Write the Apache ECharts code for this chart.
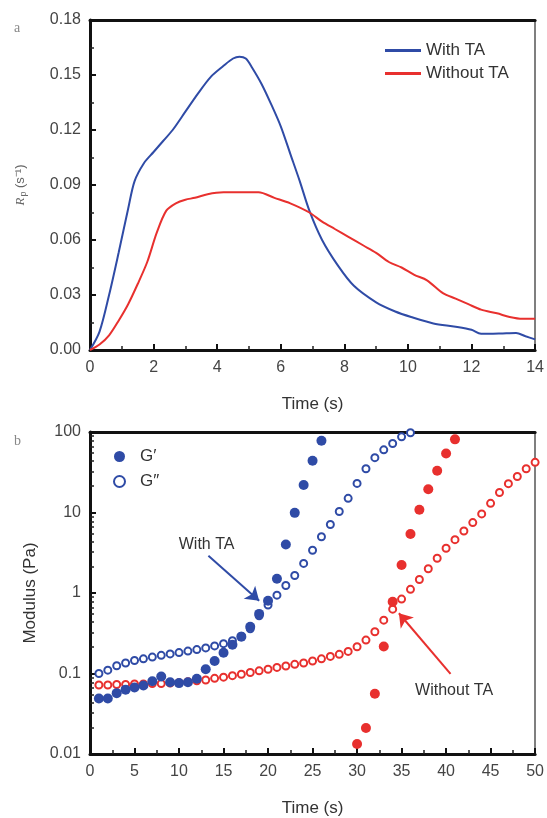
<!DOCTYPE html>
<html><head><meta charset="utf-8">
<script src="https://cdn.jsdelivr.net/npm/echarts@6/dist/echarts.min.js"></script>
<style>html,body{margin:0;padding:0;background:#fff}#c{width:547px;height:818px}</style>
</head><body><div id="c"></div>
<script>
// ---- Panel a: Rp vs time ----
const tWith = [0, 0.3, 0.6, 0.9, 1.2, 1.4, 1.7, 2.0, 2.3, 2.6, 3.0, 3.4, 3.8, 4.2, 4.5, 4.7, 4.9, 5.1, 5.4, 5.7, 6.0, 6.3, 6.6, 6.9, 7.3, 7.8, 8.3, 9.0, 9.6, 10.1, 10.8, 11.5, 12.0, 12.3, 12.9, 13.4, 13.7, 14];
const rpWith = [0, 0.010, 0.030, 0.053, 0.077, 0.092, 0.102, 0.108, 0.114, 0.120, 0.130, 0.140, 0.149, 0.155, 0.159, 0.160, 0.159, 0.154, 0.145, 0.134, 0.122, 0.107, 0.092, 0.076, 0.060, 0.046, 0.035, 0.026, 0.021, 0.018, 0.0145, 0.0127, 0.011, 0.0088, 0.009, 0.0093, 0.0075, 0.0058];
const tWithout = [0, 0.3, 0.6, 0.9, 1.2, 1.5, 1.8, 2.1, 2.4, 2.7, 3.0, 3.3, 3.7, 4.2, 4.8, 5.3, 5.8, 6.3, 6.9, 7.3, 7.7, 8.1, 8.6, 9.0, 9.4, 9.8, 10.2, 10.6, 11.1, 11.5, 11.9, 12.3, 12.8, 13.2, 13.6, 14.0];
const rpWithout = [0, 0.003, 0.008, 0.016, 0.025, 0.036, 0.048, 0.064, 0.076, 0.080, 0.082, 0.083, 0.085, 0.086, 0.086, 0.086, 0.083, 0.080, 0.075, 0.070, 0.066, 0.062, 0.057, 0.053, 0.048, 0.045, 0.041, 0.038, 0.031, 0.028, 0.025, 0.022, 0.020, 0.018, 0.017, 0.017];

// ---- Panel b: modulus vs time ----
const tGpWith = [1,2,3,4,5,6,7,8,9,10,11,12,13,14,15,16,17,18,19,20,21,22,23,24,25,26];
const gpWith = [0.049,0.049,0.057,0.063,0.067,0.071,0.080,0.092,0.078,0.076,0.078,0.086,0.113,0.143,0.181,0.228,0.287,0.38,0.55,0.80,1.5,4.0,9.9,22,44,78];
const tGppWith = [1,2,3,4,5,6,7,8,9,10,11,12,13,14,15,16,17,18,19,20,21,22,23,24,25,26,27,28,29,30,31,32,33,34,35,36];
const gppWith = [0.10,0.11,0.125,0.135,0.145,0.152,0.16,0.168,0.175,0.182,0.19,0.198,0.208,0.22,0.235,0.255,0.29,0.36,0.52,0.71,0.94,1.24,1.65,2.33,3.4,5.0,7.1,10.3,15,23,35,48,60,72,87,98];
const tGpWithout = [30,31,32,33,34,35,36,37,38,39,40,41];
const gpWithout = [0.0133,0.021,0.056,0.217,0.78,2.23,5.4,10.8,19.4,33,54,81];
const tGppWithout = [1,2,3,4,5,6,7,8,9,10,11,12,13,14,15,16,17,18,19,20,21,22,23,24,25,26,27,28,29,30,31,32,33,34,35,36,37,38,39,40,41,42,43,44,45,46,47,48,49,50];
const gppWithout = [0.072,0.072,0.073,0.073,0.074,0.074,0.075,0.075,0.076,0.077,0.079,0.081,0.083,0.087,0.090,0.094,0.098,0.103,0.108,0.113,0.119,0.124,0.130,0.135,0.143,0.152,0.163,0.173,0.188,0.215,0.26,0.33,0.46,0.63,0.84,1.11,1.47,2.0,2.7,3.6,4.6,5.9,7.5,9.6,13,17.7,22.8,28,35,42];

// annotations (data coordinates)
const arrowWith = [[13.3, 2.9], [19.0, 0.8]];
const labelWith = [13.1, 4.0];
const arrowWithout = [[40.5, 0.099], [34.7, 0.56]];
const labelWithout = [40.9, 0.061];

const BLUE = '#2f4ba6', RED = '#e8302e';
const zip = (a, b) => a.map((x, i) => [x, b[i]]);
const FONT = 'Liberation Sans, Arial, sans-serif';
const lab = {color: '#444', fontSize: 16, fontFamily: FONT};

const chart = echarts.init(document.getElementById('c'), null, {renderer: 'canvas'});
const axisBase = (extra) => Object.assign({
  axisLine: {show: true, onZero: false, lineStyle: {color: '#111', width: 3}},
  axisTick: {show: true, inside: true, length: 6, lineStyle: {color: '#111', width: 2}},
  minorTick: {show: true, splitNumber: 2, length: 4, lineStyle: {color: '#222', width: 1.5}},
  splitLine: {show: false},
  axisLabel: Object.assign({margin: 10}, lab),
  nameTextStyle: {color: '#333', fontSize: 17, fontFamily: FONT}
}, extra);
const frame = (gi, pos, w, c) => ({
  gridIndex: gi, position: pos, type: 'value', min: 0, max: 1,
  axisLine: {show: true, onZero: false, lineStyle: {color: c, width: w}},
  axisTick: {show: false}, axisLabel: {show: false}, splitLine: {show: false}
});
const arrowLine = (color, pts) => ({silent: true, symbol: ['none', 'arrow'], symbolSize: 13,
  label: {show: false}, lineStyle: {color: color, width: 2, type: 'solid', opacity: 1},
  itemStyle: {color: color, opacity: 1},
  data: [[{coord: pts[0]}, {coord: pts[1]}]]});
const textPoint = (txt, at) => ({silent: true, symbol: 'circle', symbolSize: 1,
  itemStyle: {color: 'rgba(0,0,0,0)'},
  data: [{coord: at, label: {show: true, position: 'inside', formatter: txt,
    color: '#333', fontSize: 16, fontFamily: FONT}}]});

chart.setOption({
  animation: false,
  backgroundColor: '#fff',
  textStyle: {fontFamily: FONT},
  grid: [
    {left: 90, top: 20, width: 447, height: 330},
    {left: 90, top: 432, width: 447, height: 330}
  ],
  xAxis: [
    axisBase({gridIndex: 0, type: 'value', min: 0, max: 14, interval: 2,
      name: 'Time (s)', nameLocation: 'middle', nameGap: 46}),
    axisBase({gridIndex: 1, type: 'value', min: 0, max: 50, interval: 5,
      name: 'Time (s)', nameLocation: 'middle', nameGap: 46}),
    frame(0, 'top', 3, '#111'),
    frame(1, 'top', 3, '#111')
  ],
  yAxis: [
    axisBase({gridIndex: 0, type: 'value', min: 0, max: 0.18, interval: 0.03,
      axisLabel: Object.assign({margin: 9, formatter: v => v.toFixed(2)}, lab),
      name: '{i|R}{sub|p} (s⁻¹)', nameLocation: 'middle', nameGap: 62, nameRotate: 90,
      nameTextStyle: {color: '#666', fontSize: 13, fontFamily: FONT,
        rich: {i: {fontStyle: 'italic', fontSize: 13, color: '#666', fontFamily: 'Liberation Serif, serif'},
               sub: {fontSize: 9, color: '#666', verticalAlign: 'bottom', padding: [6, 0, 0, 1]}}}}),
    axisBase({gridIndex: 1, type: 'log', logBase: 10, min: 0.01, max: 100,
      minorTick: {show: true, splitNumber: 8, length: 4, lineStyle: {color: '#222', width: 1.5}},
      axisLabel: Object.assign({margin: 9, formatter: v => String(parseFloat(v.toPrecision(6)))}, lab),
      name: 'Modulus (Pa)', nameLocation: 'middle', nameGap: 48, nameRotate: 90}),
    frame(0, 'right', 1.5, '#555'),
    frame(1, 'right', 1.5, '#555')
  ],
  legend: [
    {orient: 'vertical', left: 380, top: 37, itemGap: 6, itemWidth: 36, itemHeight: 3,
     icon: 'rect', textStyle: {color: '#333', fontSize: 17, fontFamily: FONT},
     data: ['With TA', 'Without TA']},
    {orient: 'vertical', left: 108, top: 443, itemGap: 8, itemWidth: 11, itemHeight: 11,
     textStyle: {color: '#333', fontSize: 17, fontFamily: FONT, padding: [0, 0, 0, 10]},
     data: [{name: 'G′', icon: 'circle'}, {name: 'G″', icon: 'emptyCircle'}]}
  ],
  series: [
    {name: 'With TA', type: 'line', xAxisIndex: 0, yAxisIndex: 0, data: zip(tWith, rpWith),
     smooth: 0.3, showSymbol: false, lineStyle: {color: BLUE, width: 2}, itemStyle: {color: BLUE}},
    {name: 'Without TA', type: 'line', xAxisIndex: 0, yAxisIndex: 0, data: zip(tWithout, rpWithout),
     smooth: 0.3, showSymbol: false, lineStyle: {color: RED, width: 2}, itemStyle: {color: RED}},
    {name: 'G″ without', type: 'scatter', xAxisIndex: 1, yAxisIndex: 1, data: zip(tGppWithout, gppWithout),
     symbol: 'emptyCircle', symbolSize: 7, itemStyle: {color: RED, borderColor: RED, borderWidth: 1.6, opacity: 1}},
    {name: 'G′ without', type: 'scatter', xAxisIndex: 1, yAxisIndex: 1, data: zip(tGpWithout, gpWithout),
     symbol: 'circle', symbolSize: 10, itemStyle: {color: RED, opacity: 1},
     markLine: arrowLine(RED, arrowWithout), markPoint: textPoint('Without TA', labelWithout)},
    {name: 'G″', type: 'scatter', xAxisIndex: 1, yAxisIndex: 1, data: zip(tGppWith, gppWith),
     symbol: 'emptyCircle', symbolSize: 7, itemStyle: {color: BLUE, borderColor: BLUE, borderWidth: 1.6, opacity: 1}},
    {name: 'G′', type: 'scatter', xAxisIndex: 1, yAxisIndex: 1, data: zip(tGpWith, gpWith),
     symbol: 'circle', symbolSize: 10, itemStyle: {color: BLUE, opacity: 1},
     markLine: arrowLine(BLUE, arrowWith), markPoint: textPoint('With TA', labelWith)}
  ],
  graphic: [
    {type: 'text', left: 14, top: 21, style: {text: 'a', fill: '#888', fontSize: 14, fontFamily: 'Liberation Serif, serif'}},
    {type: 'text', left: 14, top: 434, style: {text: 'b', fill: '#888', fontSize: 14, fontFamily: 'Liberation Serif, serif'}}
  ]
});
</script></body></html>
